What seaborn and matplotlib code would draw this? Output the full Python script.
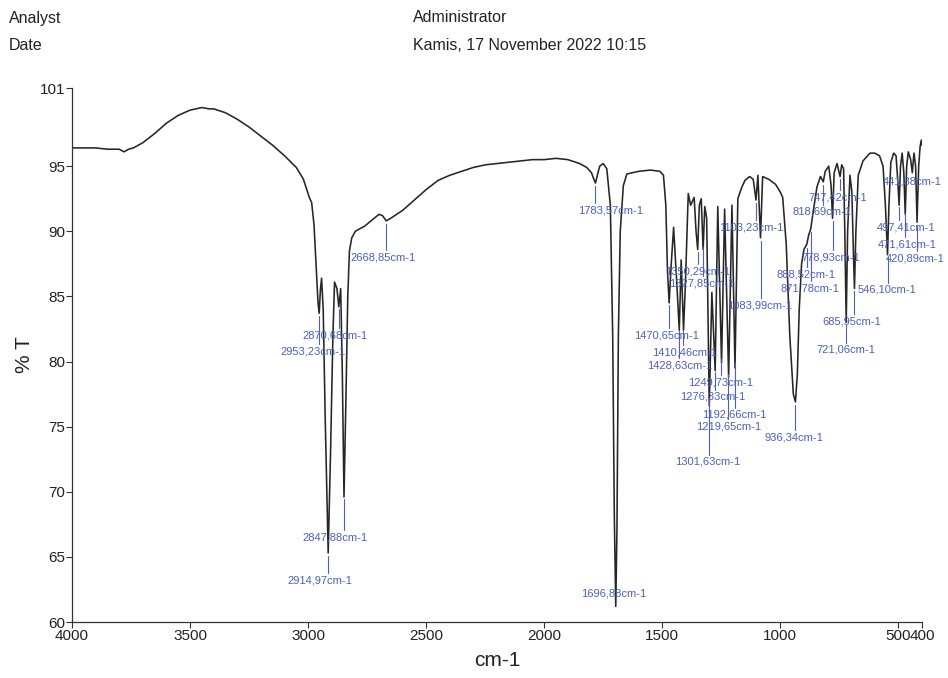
import numpy as np
import pandas as pd
import matplotlib
matplotlib.use("Agg")
import matplotlib.pyplot as plt
import seaborn as sns

# FTIR spectrum: wavenumber (cm-1) and transmittance (%T)
wavenumber = [
    4000, 3950, 3900, 3850, 3800, 3780, 3760, 3740, 3700, 3650, 3600, 3550,
    3500, 3450, 3420, 3400, 3350, 3300, 3250, 3200, 3150, 3100, 3050, 3020,
    3000, 2995, 2985, 2975, 2965, 2958, 2953, 2948, 2943, 2936, 2928, 2915,
    2905, 2895, 2888, 2878, 2870, 2862, 2855, 2848, 2840, 2832, 2825, 2815,
    2800, 2760, 2720, 2700, 2685, 2669, 2650, 2600, 2550, 2500, 2450, 2400,
    2350, 2300, 2250, 2200, 2150, 2100, 2050, 2000, 1950, 1900, 1850, 1820,
    1800, 1790, 1783, 1775, 1765, 1750, 1735, 1720, 1710, 1703, 1697, 1692,
    1686, 1678, 1665, 1650, 1600, 1550, 1510, 1495, 1485, 1478, 1471, 1462,
    1452, 1440, 1428, 1420, 1410, 1402, 1390, 1380, 1365, 1357, 1350, 1343,
    1335, 1327, 1320, 1312, 1301, 1290, 1276, 1265, 1249, 1236, 1219, 1205,
    1192, 1180, 1165, 1150, 1130, 1115, 1103, 1095, 1084, 1075, 1050, 1020,
    1000, 990, 975, 960, 945, 936, 928, 920, 910, 900, 888, 880, 871, 860,
    845, 830, 818, 810, 795, 785, 779, 772, 760, 747, 740, 732, 727, 721,
    715, 705, 697, 690, 686, 680, 670, 650, 620, 600, 580, 565, 555, 546,
    540, 532, 520, 510, 503, 497, 491, 484, 477, 471, 465, 458, 448, 441,
    434, 427, 421, 414, 408, 403, 400,
]
transmittance = [
    96.4, 96.4, 96.4, 96.3, 96.3, 96.1, 96.3, 96.4, 96.8, 97.5, 98.3, 98.9,
    99.3, 99.5, 99.4, 99.4, 99.1, 98.6, 98.0, 97.3, 96.6, 95.8, 94.9, 94.0,
    92.9, 92.6, 92.2, 90.5, 87.0, 84.5, 83.7, 85.5, 86.4, 84.0, 76.0, 65.3,
    73.0, 82.0, 86.1, 85.6, 84.2, 85.6, 79.0, 69.6, 77.0, 85.0, 88.5, 89.5,
    90.0, 90.4, 91.0, 91.3, 91.2, 90.8, 91.0, 91.6, 92.4, 93.2, 93.9, 94.3,
    94.6, 94.9, 95.1, 95.2, 95.3, 95.4, 95.5, 95.5, 95.6, 95.5, 95.2, 94.9,
    94.5, 94.0, 93.7, 94.3, 95.0, 95.2, 94.8, 92.0, 82.0, 68.0, 61.2, 67.0,
    82.0, 90.0, 93.5, 94.4, 94.6, 94.7, 94.6, 94.3, 92.0, 87.0, 84.5, 87.5,
    90.3, 86.5, 82.4, 87.8, 82.4, 86.0, 92.9, 92.0, 92.6, 90.0, 88.6, 92.0,
    92.5, 88.6, 91.9, 91.0, 76.6, 85.3, 79.3, 91.9, 79.9, 91.7, 78.8, 92.0,
    79.5, 92.5, 93.3, 93.9, 94.2, 94.0, 92.4, 94.3, 89.5, 94.2, 94.0, 93.6,
    93.0, 92.6, 89.0, 82.0, 77.5, 76.9, 79.0, 84.0, 87.5, 88.6, 89.0, 89.7,
    90.2, 91.6, 93.4, 94.2, 93.8, 94.6, 95.0, 93.5, 91.0, 94.5, 95.2, 94.2,
    95.1, 94.8, 90.0, 83.0, 90.0, 94.3, 93.0, 88.0, 85.6, 90.0, 94.3, 95.4,
    96.0, 96.0, 95.8, 95.0, 92.0, 88.2, 92.0, 95.3, 96.0, 95.8, 94.0, 92.0,
    95.0, 96.0, 94.5, 91.3, 95.0, 96.1, 95.5, 94.5, 96.0, 95.0, 90.7, 95.0,
    96.5, 97.0, 96.6,
]

# Picked peaks
peak_wavenumbers = [
    2953.23, 2870.68, 2914.97, 2847.88, 2668.85, 1783.57, 1696.88,
    1470.65, 1410.46, 1428.63, 1350.29, 1327.85, 1249.73, 1276.33,
    1192.66, 1219.65, 1301.63, 1103.23, 1083.99, 936.34, 888.52,
    871.78, 818.69, 778.93, 747.42, 721.06, 685.95, 546.10, 497.41,
    471.61, 441.38, 420.89,
]

# Where each peak label sits (wavenumber, %T of the text centre)
label_positions = [
    (2979, 80.8), (2886, 82.0), (2950, 63.2), (2886, 66.5), (2683, 88.0),
    (1717, 91.6), (1704, 62.2), (1481, 82.0), (1404, 80.7), (1425, 79.7),
    (1349, 86.9), (1332, 86.0), (1251, 78.4), (1285, 77.3), (1196, 75.9),
    (1218, 75.0), (1306, 72.3), (1124, 90.3), (1086, 84.3), (942, 74.2),
    (891, 86.7), (874, 85.6), (823, 91.5), (785, 88.0), (755, 92.6),
    (722, 80.9), (696, 83.1), (548, 85.5), (468, 90.3), (461, 89.0),
    (442, 93.8), (429, 87.9),
]

x_ticks = [4000, 3500, 3000, 2500, 2000, 1500, 1000, 500, 400]
y_ticks = [60, 65, 70, 75, 80, 85, 90, 95, 101]

spectrum = pd.DataFrame({"wavenumber": wavenumber, "T": transmittance})

sns.set_style("ticks")
plt.rcParams["font.family"] = ["Liberation Sans", "DejaVu Sans"]

fig = plt.figure(figsize=(9.48, 6.78), dpi=100)
ax = fig.add_axes([72 / 948, 1 - 622 / 678, 850 / 948, (622 - 88) / 678])

sns.lineplot(data=spectrum, x="wavenumber", y="T", sort=False, estimator=None,
             color="#262626", linewidth=1.15, ax=ax)

ax.set_xlim(4000, 400)
ax.set_ylim(60, 101)
ax.set_xticks(x_ticks)
ax.set_xticklabels([str(t) for t in x_ticks])
ax.set_yticks(y_ticks)
ax.set_yticklabels([str(t) for t in y_ticks])
ax.tick_params(axis="both", labelsize=11, length=4, width=0.8, color="#333333",
               labelcolor="#222222", pad=1)
for s in ["top", "right"]:
    ax.spines[s].set_visible(False)
for s in ["left", "bottom"]:
    ax.spines[s].set_linewidth(0.9)
    ax.spines[s].set_color("#333333")

ax.set_xlabel("cm-1", fontsize=15, color="#222222", labelpad=6)
ax.set_ylabel("% T", fontsize=15, color="#222222", labelpad=4)

label_color = "#4d5fbd"
for w, (lx, ly) in zip(peak_wavenumbers, label_positions):
    t_peak = float(np.interp(w, wavenumber[::-1], transmittance[::-1]))
    top = t_peak - 0.25
    bottom = ly + 0.55
    if top > bottom:
        ax.plot([w, w], [top, bottom], color=label_color, linewidth=0.8)
    elif ly - 0.55 > t_peak + 0.25:
        ax.plot([w, w], [t_peak + 0.25, ly - 0.55], color=label_color, linewidth=0.8)
    text = f"{w:.2f}".replace(".", ",") + "cm-1"
    ax.text(lx, ly, text, color=label_color, fontsize=8, ha="center", va="center")

# Report header
hdr = dict(fontsize=11.5, color="#222222", va="center", ha="left")
fig.text(9 / 948, 1 - 18 / 678, "Analyst", **hdr)
fig.text(9 / 948, 1 - 45 / 678, "Date", **hdr)
fig.text(413 / 948, 1 - 18 / 678, "Administrator", **hdr)
fig.text(413 / 948, 1 - 45 / 678, "Kamis, 17 November 2022 10:15", **hdr)

fig.savefig("out.png", dpi=100)
